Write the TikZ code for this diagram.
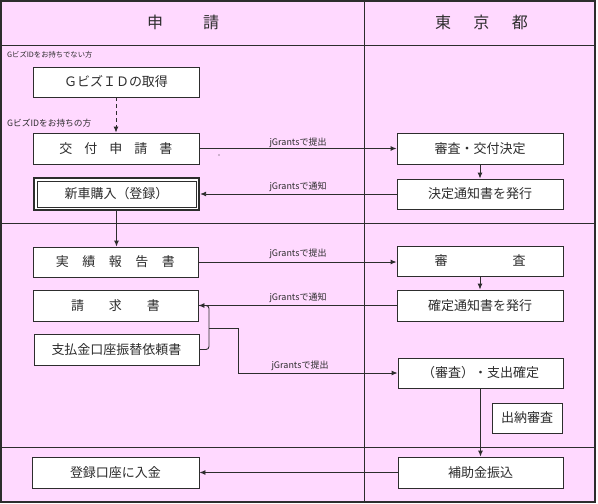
\documentclass[tikz,border=0pt]{standalone}
\usepackage{fontspec}
\setmainfont{Noto Sans CJK JP}
\usetikzlibrary{arrows.meta}
\definecolor{bgpink}{RGB}{255,217,255}
\definecolor{ink}{RGB}{45,45,45}
\begin{document}
\begin{tikzpicture}[x=1pt,y=-1pt,
  box/.style={draw=ink, fill=white, line width=0.9pt, inner sep=0pt, font=\fontsize{13}{15}\selectfont, text=ink},
  arr/.style={draw=ink, line width=0.9pt, -{Latex[length=6pt,width=5pt]}},
  conn/.style={draw=ink, line width=0.9pt},
  lbl/.style={font=\fontsize{9}{10}\selectfont, text=ink, inner sep=0pt},
  note/.style={font=\fontsize{7.3}{8}\selectfont, text=ink, inner sep=0pt, anchor=west},
  head/.style={font=\fontsize{16}{18}\selectfont, text=ink},
  grid/.style={draw=ink, line width=1pt}]
\useasboundingbox (0,0) rectangle (598,504);
\fill[bgpink] (1,1) rectangle (595,502);
\draw[grid] (1,45) -- (595,45) (1,223) -- (595,223) (1,447) -- (595,447) (364,1) -- (364,502);
\draw[ink, line width=1.2pt] (1,1) rectangle (595,502);

\node[head] (h1) at (183,22) {申\hspace{40pt}請};
\node[head] (h2) at (481.5,22) {東\hspace{22.5pt}京\hspace{22.5pt}都};

\node[note] (n1) at (7,55) {GビズIDをお持ちでない方};
\node[note, font=\fontsize{8.7}{10}\selectfont] (n2) at (7,123) {GビズIDをお持ちの方};

% left column
\node[box, minimum width=166pt, minimum height=30pt] (gbiz) at (116,82) {ＧビズＩＤの取得};
\node[box, minimum width=166pt, minimum height=31pt] (koufu) at (116,148.5) {交\hspace{12pt}付\hspace{12pt}申\hspace{12pt}請\hspace{12pt}書};
\node[box, line width=1.8pt, minimum width=165.5pt, minimum height=32.5pt] (shinsha) at (116.5,194) {新車購入（登録）};
\draw[ink, line width=0.9pt] (37,181) rectangle (196,207);
\node[box, minimum width=165pt, minimum height=30pt] (jisseki) at (115.5,262) {実\hspace{13.5pt}績\hspace{13.5pt}報\hspace{13.5pt}告\hspace{13.5pt}書};
\node[box, minimum width=165pt, minimum height=31pt] (seikyu) at (115.5,305.5) {請\hspace{25pt}求\hspace{25pt}書};
\node[box, minimum width=165pt, minimum height=31pt] (shiharai) at (116.5,349.5) {支払金口座振替依頼書};
\node[box, minimum width=167pt, minimum height=31pt] (touroku) at (115.5,472.5) {登録口座に入金};

% right column
\node[box, minimum width=166pt, minimum height=31pt] (shinsa1) at (480,148.5) {審査・交付決定};
\node[box, minimum width=166pt, minimum height=30pt] (kettei) at (480,194) {決定通知書を発行};
\node[box, minimum width=166pt, minimum height=30pt] (shinsa2) at (480,261) {審\hspace{65pt}査};
\node[box, minimum width=166pt, minimum height=31pt] (kakutei) at (480,305.5) {確定通知書を発行};
\node[box, minimum width=165pt, minimum height=30pt] (shishutsu) at (480.5,373) {（審査）・支出確定};
\node[box, minimum width=70pt, minimum height=30pt] (suitou) at (527,418) {出納審査};
\node[box, minimum width=165pt, minimum height=31pt] (hojo) at (480.5,472.5) {補助金振込};

% connectors
\draw[arr, dash pattern=on 4pt off 3pt] (gbiz.south) -- (koufu.north);
\draw[arr] (koufu.east) -- (shinsa1.west);
\draw[arr] (shinsa1.south) -- (kettei.north);
\draw[arr] (kettei.west) -- (shinsha.east);
\draw[arr] (shinsha.south) -- (shinsha.south |- jisseki.north);
\draw[arr] (jisseki.east) -- (jisseki.east -| shinsa2.west);
\draw[arr] (shinsa2.south) -- (kakutei.north);
\draw[arr] (kakutei.west) -- (seikyu.east);
\coordinate (bx) at (209,328);
\coordinate (bend) at (238,328);
\draw[conn, rounded corners=3pt] (shiharai.east) -| (bx) |- (seikyu.east);
\draw[arr] (bx) -- (bend) |- (shishutsu.west);
\draw[arr] (shishutsu.south) -- (shishutsu.south |- hojo.north);
\draw[arr] (hojo.west) -- (touroku.east);

% labels
\node[lbl] (l1) at (298,143) {jGrantsで提出};
\node[lbl] (l2) at (298,187) {jGrantsで通知};
\node[lbl] (l3) at (298,254) {jGrantsで提出};
\node[lbl] (l4) at (298,298) {jGrantsで通知};
\node[lbl] (l5) at (300,366) {jGrantsで提出};
\fill[ink] (219,155) circle (0.6pt);
\end{tikzpicture}
\end{document}
